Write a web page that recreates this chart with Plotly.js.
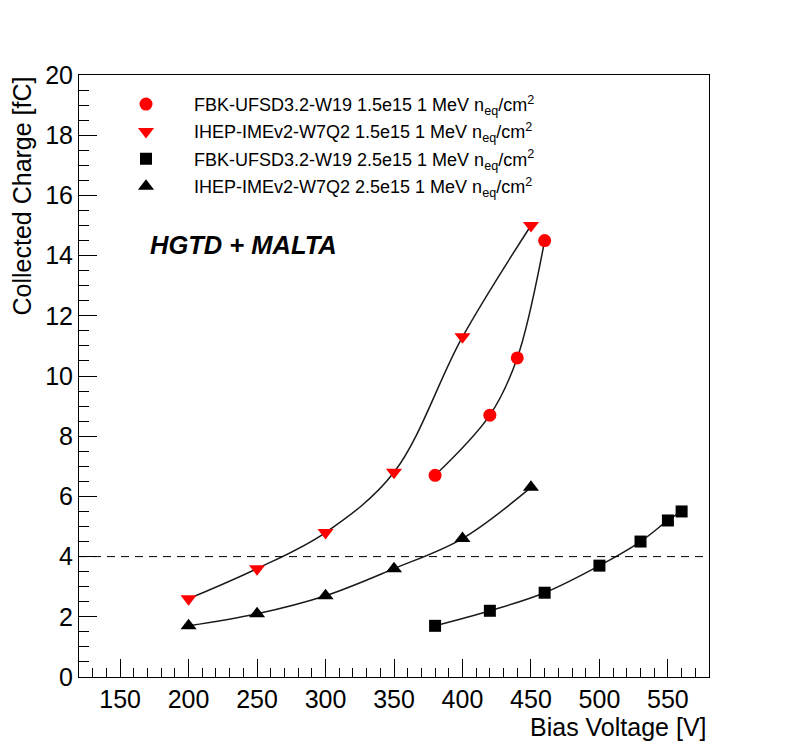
<!DOCTYPE html>
<html>
<head>
<meta charset="utf-8">
<script src="https://cdn.plot.ly/plotly-3.0.1.min.js"></script>
<style>html,body{margin:0;padding:0;background:#fff;}#chart{width:788px;height:752px;}</style>
</head>
<body>
<div id="chart"></div>
<script>
// Data
const fbk15_x = [380, 420, 440, 460];
const fbk15_y = [6.7, 8.7, 10.6, 14.5];
const ihep15_x = [200, 250, 300, 350, 400, 450];
const ihep15_y = [2.6, 3.6, 4.8, 6.8, 11.3, 15.0];
const fbk25_x = [380, 420, 460, 500, 530, 550, 560];
const fbk25_y = [1.7, 2.2, 2.8, 3.7, 4.5, 5.2, 5.5];
const ihep25_x = [200, 250, 300, 350, 400, 450];
const ihep25_y = [1.7, 2.1, 2.7, 3.6, 4.6, 6.3];
const seriesNames = [
  'FBK-UFSD3.2-W19 1.5e15 1 MeV n<sub>eq</sub>/cm<sup>2</sup>',
  'IHEP-IMEv2-W7Q2 1.5e15 1 MeV n<sub>eq</sub>/cm<sup>2</sup>',
  'FBK-UFSD3.2-W19 2.5e15 1 MeV n<sub>eq</sub>/cm<sup>2</sup>',
  'IHEP-IMEv2-W7Q2 2.5e15 1 MeV n<sub>eq</sub>/cm<sup>2</sup>'
];
const threshold = 4;

const FONT = 'Liberation Sans, Arial, Helvetica, sans-serif';
const series = [
  {x: fbk15_x, y: fbk15_y, color: '#ff0000', symbol: 'circle', size: 13},
  {x: ihep15_x, y: ihep15_y, color: '#ff0000', symbol: 'triangle-down', size: 14},
  {x: fbk25_x, y: fbk25_y, color: '#000000', symbol: 'square', size: 12},
  {x: ihep25_x, y: ihep25_y, color: '#000000', symbol: 'triangle-up', size: 14}
];

const traces = [];
series.forEach((s, i) => {
  traces.push({
    x: s.x, y: s.y, type: 'scatter', mode: 'lines',
    line: {shape: 'spline', smoothing: 1, color: '#1a1a1a', width: 1.5},
    showlegend: false, hoverinfo: 'skip'
  });
});
series.forEach((s, i) => {
  traces.push({
    x: s.x, y: s.y, type: 'scatter', mode: 'markers',
    name: seriesNames[i], legendgroup: 'g' + i,
    marker: {color: s.color, symbol: s.symbol, size: s.size, line: {width: 0}}
  });
});

const layout = {
  width: 788, height: 752,
  margin: {l: 79, r: 79, t: 75, b: 75},
  paper_bgcolor: '#fff', plot_bgcolor: '#fff',
  font: {family: FONT, color: '#000'},
  showlegend: true,
  legend: {
    x: 19/630, y: 0.982, xanchor: 'left', yanchor: 'top',
    bgcolor: 'rgba(0,0,0,0)', borderwidth: 0,
    font: {family: FONT, size: 18, color: '#000'},
    itemwidth: 86, tracegroupgap: 1,
    itemclick: false
  },
  xaxis: {
    range: [120, 580], tick0: 0, dtick: 50,
    ticks: 'inside', ticklen: 18, tickwidth: 1, tickcolor: '#000',
    minor: {dtick: 10, ticks: 'inside', ticklen: 9, tickwidth: 1, tickcolor: '#000'},
    showline: true, linecolor: '#000', linewidth: 1, mirror: true,
    showgrid: false, zeroline: false,
    tickfont: {family: FONT, size: 25, color: '#000'}
  },
  yaxis: {
    range: [0, 20], tick0: 0, dtick: 2,
    ticks: 'inside', ticklen: 18, tickwidth: 1, tickcolor: '#000',
    minor: {dtick: 0.5, ticks: 'inside', ticklen: 10, tickwidth: 1, tickcolor: '#000'},
    showline: true, linecolor: '#000', linewidth: 1, mirror: true,
    showgrid: false, zeroline: false,
    tickfont: {family: FONT, size: 25, color: '#000'}
  },
  shapes: [{
    type: 'line', xref: 'paper', yref: 'y', x0: 0, x1: 1, y0: threshold, y1: threshold,
    line: {color: '#000', width: 1, dash: '8px,6px'}
  }],
  annotations: [
    {text: 'Collected Charge [fC]', xref: 'paper', yref: 'paper', x: -58/630, y: 1,
     xanchor: 'center', yanchor: 'top', textangle: -90, showarrow: false,
     font: {family: FONT, size: 25, color: '#000'}},
    {text: 'Bias Voltage [V]', xref: 'paper', yref: 'paper', x: 1, y: -50/602,
     xanchor: 'right', yanchor: 'middle', showarrow: false,
     font: {family: FONT, size: 25, color: '#000'}},
    {text: '<b><i>HGTD + MALTA</i></b>', xref: 'paper', yref: 'paper', x: 69/630, y: (677-245)/602,
     xanchor: 'left', yanchor: 'middle', showarrow: false,
     font: {family: FONT, size: 25.5, color: '#000'}}
  ]
};

Plotly.newPlot('chart', traces, layout, {displayModeBar: false, staticPlot: true});
</script>
</body>
</html>
